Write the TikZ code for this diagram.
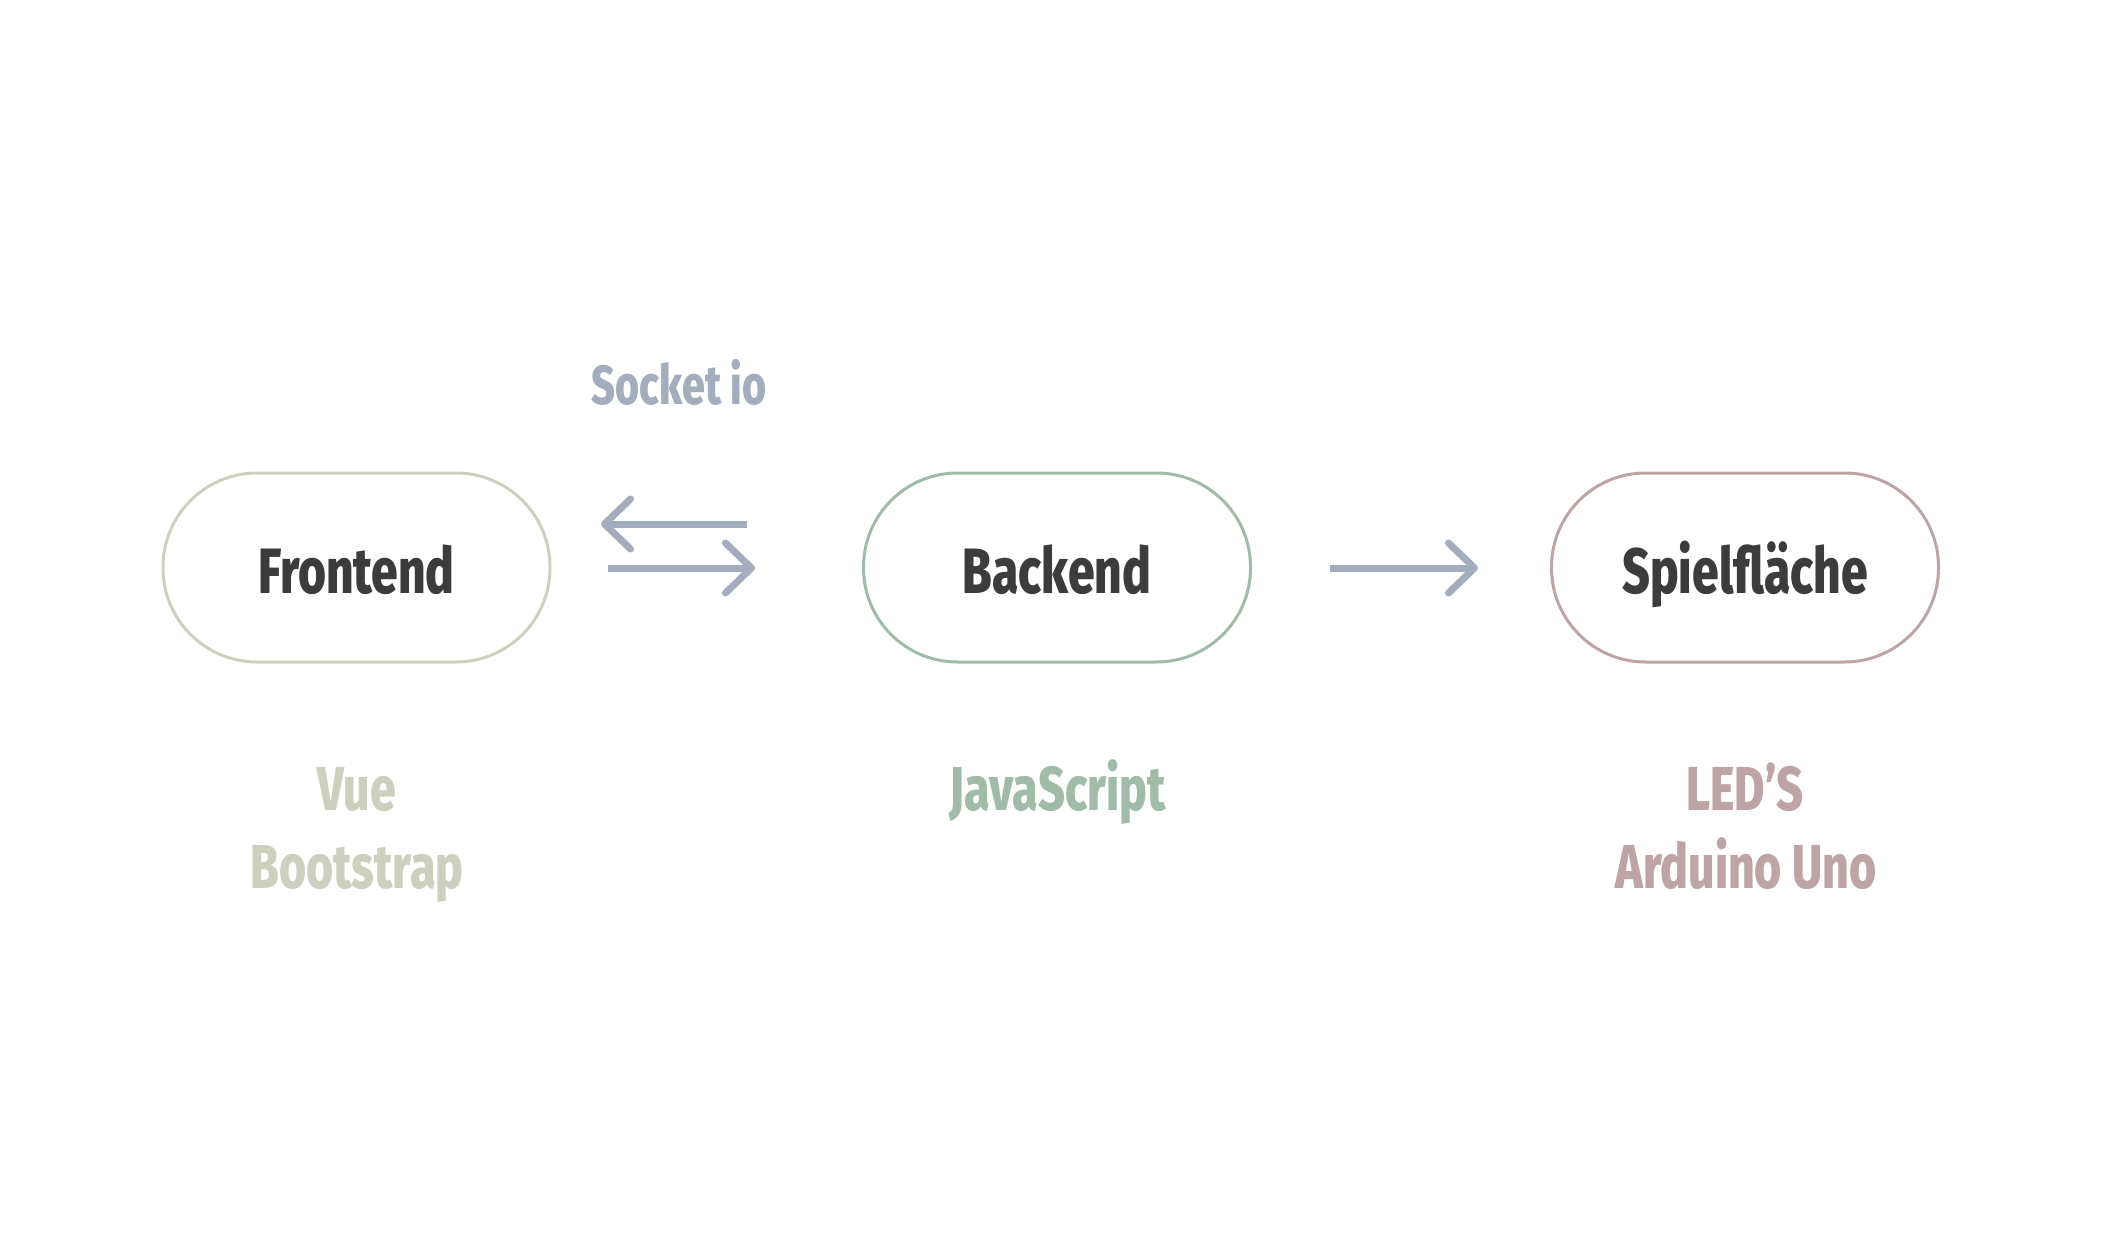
\documentclass[tikz,border=0pt]{standalone}
\usepackage{fontspec}
\usetikzlibrary{arrows.meta}
\newfontfamily\osw[FakeStretch=0.75,BoldFont={Fira Sans ExtraBold}]{Fira Sans}
\definecolor{cfront}{RGB}{207,207,191}
\definecolor{cback}{RGB}{160,188,168}
\definecolor{cspiel}{RGB}{190,164,164}
\definecolor{carrow}{RGB}{164,173,189}
\definecolor{ctext}{RGB}{60,60,60}
\begin{document}
\begin{tikzpicture}[x=1pt,y=-1pt,
  pill/.style={draw, line width=3pt, rounded corners=94pt, minimum width=387pt,
    minimum height=189pt, inner sep=0pt, text=ctext,
    font=\osw\bfseries\fontsize{64}{64}\selectfont, text height=51pt, text depth=0pt},
  lbl/.style={anchor=base, inner sep=0pt, font=\osw\bfseries\fontsize{62}{62}\selectfont},
  conn/.style={draw=carrow, line width=7pt,
    -{Straight Barb[length=26pt,width=50pt,line width=7pt,round]}}
]
\useasboundingbox (0,0) rectangle (2104,1260);
\node[pill, draw=cfront] (front) at (356.5,567.5) {Frontend};
\node[pill, draw=cback] (back) at (1057,567.5) {Backend};
\node[pill, draw=cspiel] (spiel) at (1745,567.5) {Spielfläche};

\node[anchor=base, inner sep=0pt, text=carrow, font=\osw\bfseries\fontsize{55}{55}\selectfont] (sock) at (679,404) {Socket io};

\node[lbl, text=cfront] (vue) at (357,810) {Vue};
\node[lbl, text=cfront] (boot) at (357,888) {Bootstrap};
\node[lbl, text=cback] (js) at (1057.5,810) {JavaScript};
\node[lbl, text=cspiel] (leds) at (1745,810) {LED’S};
\node[lbl, text=cspiel] (ard) at (1746,888) {Arduino Uno};

\coordinate (a1s) at (747,524);
\coordinate (a1e) at (601,524);
\coordinate (a2s) at (608,568);
\coordinate (a2e) at (755,568);
\coordinate (a3s) at (1330,568);
\coordinate (a3e) at (1478,568);
\draw[conn] (a1s) -- (a1e);
\draw[conn] (a2s) -- (a2e);
\draw[conn] (a3s) -- (a3e);
\end{tikzpicture}
\end{document}
